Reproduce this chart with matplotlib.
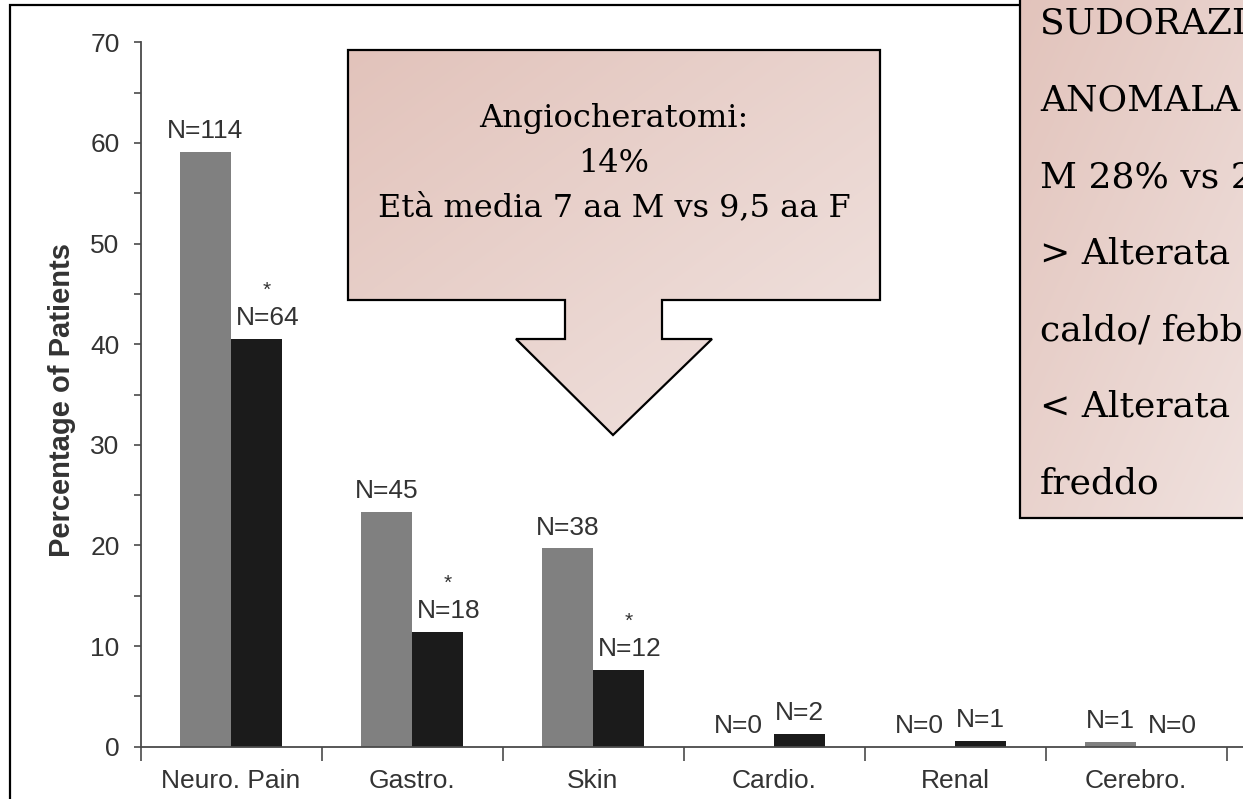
import numpy as np
import matplotlib
matplotlib.use("Agg")
import matplotlib.pyplot as plt
from matplotlib.patches import Polygon
from matplotlib.colors import to_rgb

# ---- data -------------------------------------------------------------
categories = ["Neuro. Pain", "Gastro.", "Skin", "Cardio.", "Renal", "Cerebro."]
males_pct = [59.1, 23.3, 19.7, 0.0, 0.0, 0.5]
females_pct = [40.5, 11.4, 7.6, 1.3, 0.6, 0.0]
males_n = [114, 45, 38, 0, 0, 1]
females_n = [64, 18, 12, 2, 1, 0]
females_signif = [True, True, True, False, False, False]
y_major = [0, 10, 20, 30, 40, 50, 60, 70]
y_minor = [5, 15, 25, 35, 45, 55, 65]

callout_lines = ["Angiocheratomi:", "14%", "Età media 7 aa M vs 9,5 aa F"]
sweat_lines = ["SUDORAZIONE", "ANOMALA", "M 28% vs 2", "> Alterata",
               "caldo/ febbre", "< Alterata", "freddo"]

# ---- figure -----------------------------------------------------------
W, H = 1243, 799
DPI = 100
fig = plt.figure(figsize=(W / DPI, H / DPI), dpi=DPI)
fig.patch.set_facecolor("white")

SANS = "Liberation Sans"
SERIF = "DejaVu Serif"
TXT = "#333333"

# plot area in pixel units
x_left, y_zero, y_top = 140.5, 746.6, 42.4
cat_px = 181.0
ax = fig.add_axes([x_left / W, (H - y_zero) / H,
                   (W - x_left) / W, (y_zero - y_top) / H])
ax.set_facecolor("none")

x = np.arange(len(categories))
bw = 0.282
ax.bar(x - bw / 2, males_pct, width=bw, color="#808080", zorder=2)
ax.bar(x + bw / 2, females_pct, width=bw, color="#1b1b1b", zorder=2)

ax.set_xlim(-0.5, -0.5 + (W - x_left) / cat_px)
ax.set_ylim(0, 70)

LBL = dict(textcoords="offset points", ha="center", va="baseline",
           fontsize=19, family=SANS, color=TXT)

# count labels; a label over an empty bar is nudged away from its neighbour,
# and labels carrying the significance star sit slightly to the right
for xi, v, n in zip(x, males_pct, males_n):
    dx = -7 if v == 0 else 0
    ax.annotate(f"N={n}", (xi - bw / 2, v), xytext=(dx, 10), **LBL)
for xi, v, n, s in zip(x, females_pct, females_n, females_signif):
    dx = 8 if (v == 0 or s) else 0
    ax.annotate(f"N={n}", (xi + bw / 2, v), xytext=(dx, 10), **LBL)
    if s:
        ax.annotate("*", (xi + bw / 2, v), xytext=(dx - 1, 31),
                    textcoords="offset points", ha="center", va="baseline",
                    fontsize=15, family=SANS, color=TXT)

for side in ("top", "right"):
    ax.spines[side].set_visible(False)
for side in ("left", "bottom"):
    ax.spines[side].set_color("#4a4a4a")
    ax.spines[side].set_linewidth(1.3)

ax.set_yticks(y_major)
ax.set_yticks(y_minor, minor=True)
ax.set_yticklabels([str(v) for v in y_major], family=SANS, fontsize=19, color=TXT)
ax.tick_params(axis="y", which="both", direction="out", length=5,
               width=1.2, color="#4a4a4a", pad=10)

ax.set_xticks(np.arange(-0.5, len(categories), 1.0))
ax.set_xticklabels([])
ax.set_xticks(x, minor=True)
ax.set_xticklabels(categories, minor=True, family=SANS, fontsize=19, color=TXT)
ax.tick_params(axis="x", which="major", direction="out", length=10,
               width=1.2, color="#4a4a4a")
ax.tick_params(axis="x", which="minor", length=0, pad=16)

fig.text(62 / W, 1 - 400 / H, "Percentage of Patients", rotation=90,
         ha="center", va="center", fontsize=21, fontweight="bold",
         family=SANS, color=TXT)

# ---- overlay in pixel coordinates ------------------------------------
ov = fig.add_axes([0, 0, 1, 1], zorder=5)
ov.set_facecolor("none")
ov.axis("off")


def gradient_fill(verts, c0, c1):
    poly = Polygon(verts, closed=True, facecolor="none", edgecolor="black",
                   linewidth=1.6, joinstyle="miter", zorder=3)
    ov.add_patch(poly)
    xs = [p[0] for p in verts]
    ys = [p[1] for p in verts]
    x0, x1, y0, y1 = min(xs), max(xs), min(ys), max(ys)
    gx, gy = np.meshgrid(np.linspace(0, 1, 200), np.linspace(0, 1, 200))
    t = (gx + gy) / 2
    a, b = np.array(to_rgb(c0)), np.array(to_rgb(c1))
    img = a[None, None, :] * (1 - t[..., None]) + b[None, None, :] * t[..., None]
    im = ov.imshow(img, extent=(x0, x1, y1, y0), origin="upper",
                   aspect="auto", interpolation="bilinear", zorder=2)
    im.set_clip_path(poly)


# outer frame lines
ov.plot([10, 10, 1020], [799, 5, 5], color="black", lw=1.6,
        solid_joinstyle="miter", zorder=1)

# callout arrow
arrow = [(348, 50), (880, 50), (880, 300), (662, 300), (662, 339),
         (712, 339), (613, 435), (516, 339), (565, 339), (565, 300),
         (348, 300)]
gradient_fill(arrow, "#e2c3bb", "#f1e4e1")
for i, line in enumerate(callout_lines):
    ov.text(614, 127 + 44.5 * i, line, ha="center", va="baseline",
            fontsize=23, family=SERIF, color="black", zorder=4)

# side note box (runs off the right edge)
box = [(1020, -10), (1260, -10), (1260, 518), (1020, 518)]
gradient_fill(box, "#e2c3bb", "#f0e2df")
for i, line in enumerate(sweat_lines):
    ov.text(1040, 34 + 76.5 * i, line, ha="left", va="baseline",
            fontsize=26, family=SERIF, color="black", zorder=4)

ov.set_xlim(0, W)
ov.set_ylim(H, 0)

fig.savefig("out.png", dpi=DPI)
